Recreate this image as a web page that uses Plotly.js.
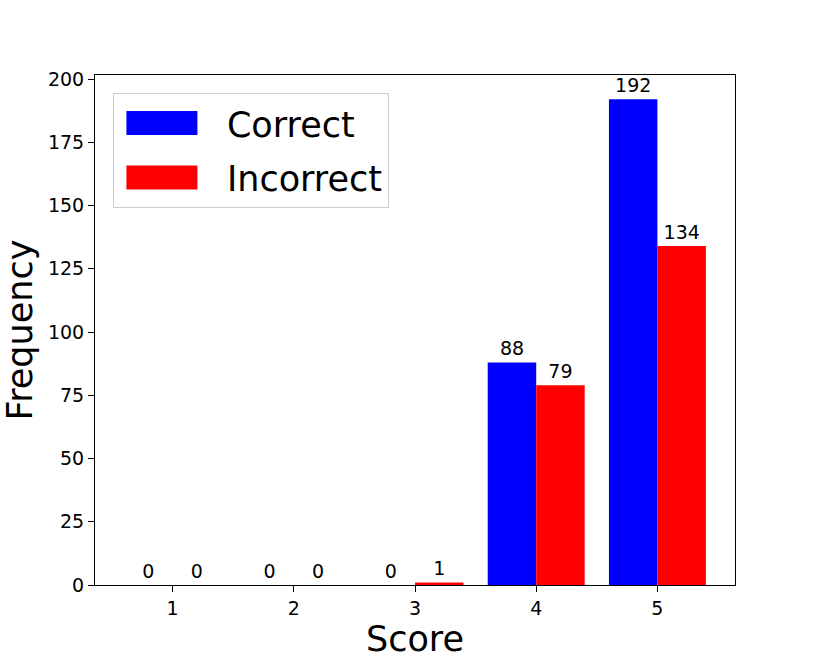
<!DOCTYPE html>
<html>
<head>
<meta charset="utf-8">
<script src="https://cdn.plot.ly/plotly-3.0.1.min.js"></script>
<style>
  body { margin: 0; background: #fff; }
  #chart { width: 830px; height: 662px; }
</style>
</head>
<body>
<div id="chart"></div>
<script>
// score categories and counts per group
const scores = [1, 2, 3, 4, 5];
const correctCounts = [0, 0, 0, 88, 192];
const incorrectCounts = [0, 0, 1, 79, 134];
const yTicks = [0, 25, 50, 75, 100, 125, 150, 175, 200];

const font = "DejaVu Sans, sans-serif";

const correct = {
  x: scores,
  y: correctCounts,
  name: "Correct",
  legendgroup: "c",
  type: "bar",
  marker: { color: "#0000ff" },
  text: correctCounts.map(String),
  textposition: "outside",
  textfont: { family: font, size: 19, color: "#000" },
  cliponaxis: false
};

const incorrect = {
  x: scores,
  y: incorrectCounts,
  name: "Incorrect",
  legendgroup: "i",
  type: "bar",
  marker: { color: "#ff0000" },
  text: incorrectCounts.map(String),
  textposition: "outside",
  textfont: { family: font, size: 19, color: "#000" },
  cliponaxis: false
};

const layout = {
  width: 830,
  height: 662,
  margin: { l: 95, r: 95, t: 75, b: 77 },
  paper_bgcolor: "#fff",
  plot_bgcolor: "#fff",
  font: { family: font, color: "#000" },
  barmode: "group",
  bargap: 0.2,
  bargroupgap: 0,
  xaxis: {
    range: [0.36, 5.64],
    tickvals: scores,
    ticktext: scores.map(String),
    ticks: "outside",
    ticklen: 6,
    tickcolor: "#000",
    showline: true,
    mirror: true,
    linecolor: "#000",
    linewidth: 1,
    showgrid: false,
    zeroline: false,
    tickfont: { size: 19 },
    title: { text: "Score", font: { size: 35 }, standoff: 4 }
  },
  yaxis: {
    range: [0, 201.6],
    tickvals: yTicks,
    ticks: "outside",
    ticklen: 6,
    tickcolor: "#000",
    showline: true,
    mirror: true,
    linecolor: "#000",
    linewidth: 1,
    showgrid: false,
    zeroline: false,
    tickfont: { size: 19 },
    title: { text: "Frequency", font: { size: 35 }, standoff: 8 }
  },
  legend: {
    x: 0.028,
    y: 0.965,
    xanchor: "left",
    yanchor: "top",
    bgcolor: "rgba(255,255,255,0.8)",
    bordercolor: "#cccccc",
    borderwidth: 1,
    font: { size: 35 },
    itemwidth: 103,
    tracegroupgap: 6
  },
  showlegend: true
};

Plotly.newPlot("chart", [correct, incorrect], layout, { displayModeBar: false }).then(() => {
  // widen legend swatches to look like matplotlib patches
  document.querySelectorAll(".legendpoints path").forEach(p => {
    p.setAttribute("d", "M27,12H-44V-12H27Z");
  });
});
</script>
</body>
</html>
